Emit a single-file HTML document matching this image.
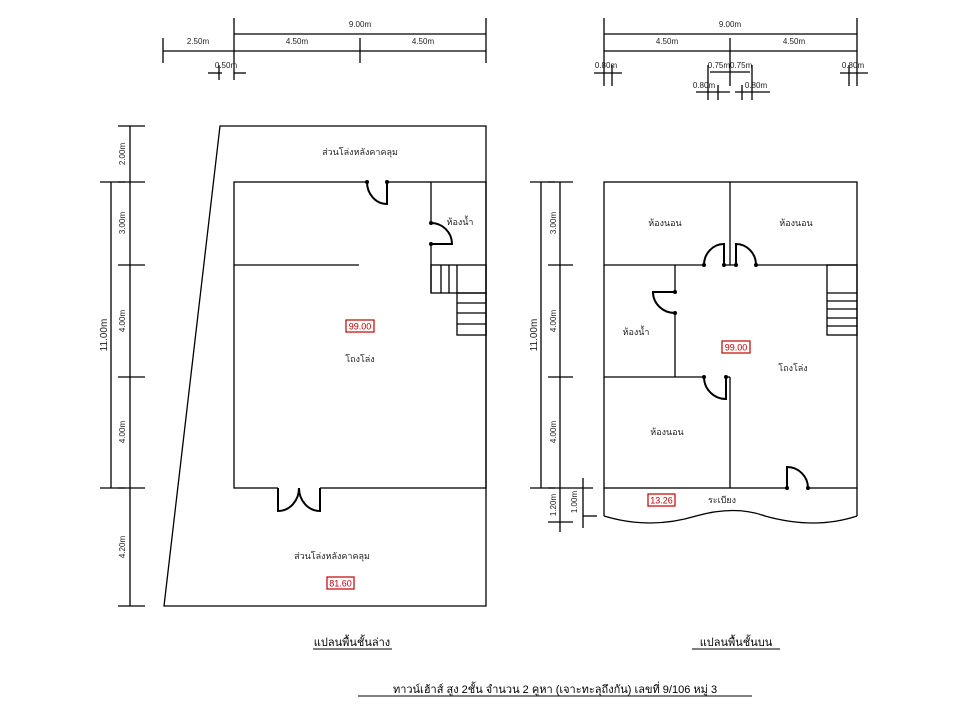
<!DOCTYPE html>
<html><head><meta charset="utf-8"><style>
html,body{margin:0;padding:0;background:#fff;}
svg{display:block;font-family:"Liberation Sans","Noto Sans CJK SC",sans-serif;}
.d{font-size:8px;fill:#222;}
.l{font-size:9px;fill:#222;}
.r{fill:none;stroke:#c00000;stroke-width:1.2;}
.rt{font-size:9px;fill:#c00000;}
</style></head><body>
<svg width="960" height="720" viewBox="0 0 960 720" xmlns="http://www.w3.org/2000/svg">
<g stroke="#000" stroke-width="1.3" fill="none">
<!-- LEFT PLAN -->
<polygon points="220,126 486,126 486,606 164,606"/>
<rect x="234" y="182" width="252" height="306"/>
<line x1="234" y1="265" x2="359" y2="265"/>
<line x1="431" y1="182" x2="431" y2="223"/>
<line x1="431" y1="244" x2="431" y2="293"/>
<path d="M431,223 A21,21 0 0 1 452,244 L431,244" stroke-width="2"/>
<rect x="431" y="265" width="55" height="28"/>
<line x1="441" y1="265" x2="441" y2="293"/><line x1="449" y1="265" x2="449" y2="293"/><line x1="457" y1="265" x2="457" y2="293"/>
<rect x="457" y="293" width="29" height="42"/>
<line x1="457" y1="303" x2="486" y2="303"/><line x1="457" y1="313" x2="486" y2="313"/><line x1="457" y1="324" x2="486" y2="324"/>
<!-- top door -->
<line x1="367" y1="182" x2="387" y2="182" stroke="#fff" stroke-width="3"/>
<path d="M367,182 A20,22 0 0 0 387,204 L387,182" stroke-width="2"/>
<!-- bottom double door -->
<line x1="278" y1="488" x2="320" y2="488" stroke="#fff" stroke-width="3"/>
<path d="M278,488 L278,511 A21,23 0 0 0 299,488 A21,23 0 0 0 320,511 L320,488" stroke-width="2"/>
<!-- left dims -->
<line x1="130" y1="126" x2="130" y2="606"/>
<line x1="118" y1="126" x2="145" y2="126"/><line x1="118" y1="182" x2="145" y2="182"/><line x1="118" y1="265" x2="145" y2="265"/><line x1="118" y1="377" x2="145" y2="377"/><line x1="118" y1="488" x2="145" y2="488"/><line x1="118" y1="606" x2="145" y2="606"/>
<line x1="111" y1="182" x2="111" y2="488"/>
<line x1="100" y1="182" x2="125" y2="182"/><line x1="100" y1="488" x2="125" y2="488"/>
<!-- top dims left -->
<line x1="234" y1="34" x2="486" y2="34"/>
<line x1="163" y1="51" x2="486" y2="51"/>
<line x1="234" y1="18" x2="234" y2="80"/><line x1="486" y1="18" x2="486" y2="63"/>
<line x1="360" y1="38" x2="360" y2="63"/><line x1="163" y1="38" x2="163" y2="63"/>
<line x1="219" y1="65" x2="219" y2="80"/>
<line x1="208" y1="73" x2="222" y2="73"/><line x1="234" y1="73" x2="246" y2="73"/>

<!-- RIGHT PLAN -->
<rect x="604" y="182" width="253" height="306"/>
<line x1="730" y1="182" x2="730" y2="265"/>
<line x1="604" y1="265" x2="704" y2="265"/>
<line x1="724" y1="265" x2="736" y2="265"/>
<line x1="756" y1="265" x2="857" y2="265"/>
<path d="M704,265 A20,21 0 0 1 724,244 L724,265" stroke-width="2"/>
<path d="M756,265 A20,21 0 0 0 736,244 L736,265" stroke-width="2"/>
<rect x="827" y="265" width="30" height="70"/>
<line x1="827" y1="293" x2="857" y2="293"/><line x1="827" y1="301" x2="857" y2="301"/><line x1="827" y1="309" x2="857" y2="309"/><line x1="827" y1="318" x2="857" y2="318"/><line x1="827" y1="326" x2="857" y2="326"/>
<line x1="675" y1="265" x2="675" y2="292"/>
<line x1="675" y1="313" x2="675" y2="377"/>
<path d="M675,313 A22,21 0 0 1 653,292 L675,292" stroke-width="2"/>
<line x1="604" y1="377" x2="704" y2="377"/>
<line x1="726" y1="377" x2="730" y2="377"/>
<path d="M704,377 A22,22 0 0 0 726,399 L726,377" stroke-width="2"/>
<line x1="730" y1="377" x2="730" y2="488"/>
<line x1="787" y1="488" x2="808" y2="488" stroke="#fff" stroke-width="3"/>
<path d="M787,488 L787,467 A21,21 0 0 1 808,488" stroke-width="2"/>
<!-- balcony -->
<line x1="604" y1="488" x2="604" y2="516"/><line x1="857" y1="488" x2="857" y2="516"/>
<path d="M604,516 Q650,530 696,516 Q735,505 765,516 Q815,530 857,516"/>
<!-- right dims -->
<line x1="541" y1="182" x2="541" y2="488"/>
<line x1="530" y1="182" x2="555" y2="182"/><line x1="530" y1="488" x2="555" y2="488"/>
<line x1="560" y1="182" x2="560" y2="532"/>
<line x1="548" y1="182" x2="573" y2="182"/><line x1="548" y1="265" x2="573" y2="265"/><line x1="548" y1="377" x2="573" y2="377"/><line x1="548" y1="488" x2="593" y2="488"/><line x1="548" y1="522" x2="573" y2="522"/>
<line x1="583" y1="478" x2="583" y2="528"/>
<line x1="583" y1="516" x2="597" y2="516"/>
<line x1="604" y1="34" x2="857" y2="34"/>
<line x1="604" y1="51" x2="857" y2="51"/>
<line x1="604" y1="18" x2="604" y2="86"/><line x1="857" y1="18" x2="857" y2="86"/>
<line x1="730" y1="38" x2="730" y2="86"/>
<line x1="612" y1="65" x2="612" y2="86"/><line x1="849" y1="65" x2="849" y2="86"/>
<line x1="594" y1="73" x2="622" y2="73"/><line x1="840" y1="73" x2="868" y2="73"/>
<line x1="710" y1="72" x2="750" y2="72"/>
<line x1="708" y1="65" x2="708" y2="100"/><line x1="752" y1="65" x2="752" y2="100"/>
<line x1="718" y1="85" x2="718" y2="100"/><line x1="742" y1="85" x2="742" y2="100"/>
<line x1="696" y1="92" x2="730" y2="92"/><line x1="735" y1="92" x2="770" y2="92"/>
<!-- title underlines -->
<line x1="313" y1="649" x2="392" y2="649" stroke-width="0.9"/>
<line x1="692" y1="649" x2="780" y2="649" stroke-width="0.9"/>
<line x1="358" y1="696" x2="752" y2="696" stroke-width="0.9"/>
</g>
<g fill="#000">
<circle cx="431" cy="223" r="2"/><circle cx="431" cy="244" r="2"/>
<circle cx="367" cy="182" r="2"/><circle cx="387" cy="182" r="2"/>
<circle cx="704" cy="265" r="2"/><circle cx="724" cy="265" r="2"/><circle cx="736" cy="265" r="2"/><circle cx="756" cy="265" r="2"/>
<circle cx="675" cy="292" r="2"/><circle cx="675" cy="313" r="2"/>
<circle cx="704" cy="377" r="2"/><circle cx="726" cy="377" r="2"/>
<circle cx="787" cy="488" r="2"/><circle cx="808" cy="488" r="2"/>
</g>
<g class="d" text-anchor="middle">
<text x="360" y="27">9.00m</text>
<text x="198" y="44">2.50m</text><text x="297" y="44">4.50m</text><text x="423" y="44">4.50m</text>
<text x="226" y="68">0.50m</text>
<text x="730" y="27">9.00m</text>
<text x="667" y="44">4.50m</text><text x="794" y="44">4.50m</text>
<text x="606" y="68">0.80m</text><text x="730" y="68">0.75m0.75m</text><text x="853" y="68">0.80m</text>
<text x="704" y="88">0.80m</text><text x="756" y="88">0.80m</text>
<text transform="translate(125,154) rotate(-90)">2.00m</text>
<text transform="translate(125,223) rotate(-90)">3.00m</text>
<text transform="translate(125,321) rotate(-90)">4.00m</text>
<text transform="translate(125,432) rotate(-90)">4.00m</text>
<text transform="translate(125,547) rotate(-90)">4.20m</text>
<text transform="translate(107,335) rotate(-90)" font-size="10">11.00m</text>
<text transform="translate(556,223) rotate(-90)">3.00m</text>
<text transform="translate(556,321) rotate(-90)">4.00m</text>
<text transform="translate(556,432) rotate(-90)">4.00m</text>
<text transform="translate(556,505) rotate(-90)">1.20m</text>
<text transform="translate(577,502) rotate(-90)">1.00m</text>
<text transform="translate(537,335) rotate(-90)" font-size="10">11.00m</text>
</g>
<g class="l" text-anchor="middle">
<text x="360" y="155">ส่วนโล่งหลังคาคลุม</text>
<text x="460" y="225">ห้องน้ำ</text>
<text x="360" y="362">โถงโล่ง</text>
<text x="332" y="559">ส่วนโล่งหลังคาคลุม</text>
<text x="665" y="226">ห้องนอน</text>
<text x="796" y="226">ห้องนอน</text>
<text x="636" y="335">ห้องน้ำ</text>
<text x="793" y="371">โถงโล่ง</text>
<text x="667" y="435">ห้องนอน</text>
<text x="722" y="503">ระเบียง</text>
</g>
<rect class="r" x="346" y="320" width="28" height="12"/><text class="rt" x="360" y="329.5" text-anchor="middle">99.00</text>
<rect class="r" x="327" y="577" width="27" height="12"/><text class="rt" x="340.5" y="586.5" text-anchor="middle">81.60</text>
<rect class="r" x="722" y="341" width="28" height="12"/><text class="rt" x="736" y="350.5" text-anchor="middle">99.00</text>
<rect class="r" x="648" y="494" width="27" height="12"/><text class="rt" x="661.5" y="503.5" text-anchor="middle">13.26</text>
<g font-size="11" fill="#000" text-anchor="middle">
<text x="352" y="646">แปลนพื้นชั้นล่าง</text>
<text x="736" y="646">แปลนพื้นชั้นบน</text>
<text x="555" y="693">ทาวน์เฮ้าส์ สูง 2ชั้น จำนวน 2 คูหา (เจาะทะลุถึงกัน) เลขที่ 9/106 หมู่ 3</text>
</g>
</svg>
</body></html>
